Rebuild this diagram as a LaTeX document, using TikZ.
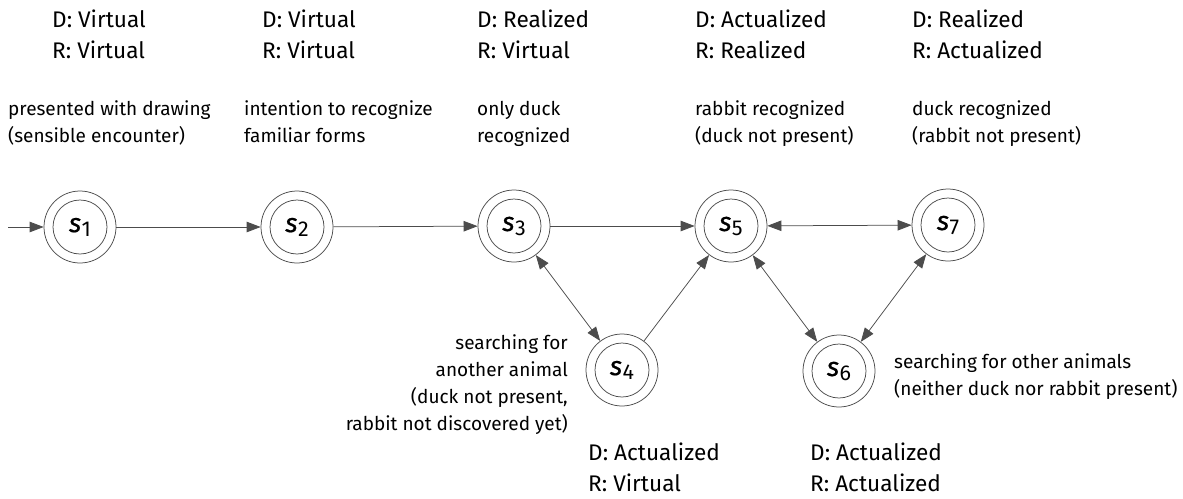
\documentclass[tikz,border=0pt]{standalone}
\usepackage{fontspec}
\setmainfont{Fira Sans}
\newfontfamily\stfont[FakeBold=0.6]{Fira Sans}
\usetikzlibrary{arrows.meta}
\definecolor{edgec}{gray}{0.3}
\newcommand{\st}[1]{{\stfont\fontsize{26.5}{26.5}\selectfont\itshape s}\kern0.5pt\raisebox{-4pt}{\fontsize{21.5}{21.5}\selectfont #1}}

\begin{document}
\begin{tikzpicture}[x=1pt,y=-1pt,
  state/.style={circle,draw=edgec,line width=0.75pt,minimum size=72pt,inner sep=0pt},
  inner/.style={draw=edgec,line width=0.75pt},
  edge/.style={draw=edgec,line width=0.75pt,-{Triangle[length=14pt,width=10.5pt]}},
  biedge/.style={draw=edgec,line width=0.75pt,{Triangle[length=14pt,width=10.5pt]}-{Triangle[length=14pt,width=10.5pt]}},
  dr/.style={anchor=base west,inner sep=0pt,font=\fontsize{22.6}{22.6}\selectfont},
  txt/.style={anchor=base west,inner sep=0pt,font=\fontsize{19}{19}\selectfont},
  txtr/.style={anchor=base east,inner sep=0pt,font=\fontsize{19}{19}\selectfont}
]
\useasboundingbox (0,0) rectangle (1183,498);

% states
\node[state] (s1) at (80,227) {\st{1}};
\node[state] (s2) at (297,227) {\st{2}};
\node[state] (s3) at (514,226) {\st{3}};
\node[state] (s4) at (622,370) {\st{4}};
\node[state] (s5) at (731,226) {\st{5}};
\node[state] (s6) at (839,371) {\st{6}};
\node[state] (s7) at (948,225) {\st{7}};
\foreach \n in {s1,s2,s3,s4,s5,s6,s7}
  \draw[inner] (\n.center) circle[radius=27pt];

% transitions
\coordinate (start) at (8,227);
\draw[edge] (start) -- (s1);
\draw[edge] (s1) -- (s2);
\draw[edge] (s2) -- (s3);
\draw[edge] (s3) -- (s5);
\draw[biedge] (s5) -- (s7);
\draw[biedge] (s3) -- (s4);
\draw[edge] (s4) -- (s5);
\draw[biedge] (s5) -- (s6);
\draw[biedge] (s6) -- (s7);

% D / R status above the states
\node[dr] (d1) at (52,27) {D: Virtual};
\node[dr] (r1) at (52,58) {R: Virtual};
\node[dr] (d2) at (262,27) {D: Virtual};
\node[dr] (r2) at (262,58) {R: Virtual};
\node[dr] (d3) at (477,27) {D: Realized};
\node[dr] (r3) at (477,58) {R: Virtual};
\node[dr] (d5) at (695,27) {D: Actualized};
\node[dr] (r5) at (695,58) {R: Realized};
\node[dr] (d7) at (912,27) {D: Realized};
\node[dr] (r7) at (912,58) {R: Actualized};

% D / R status below the states
\node[dr] (d4) at (588,460) {D: Actualized};
\node[dr] (r4) at (588,491) {R: Virtual};
\node[dr] (d6) at (810,460) {D: Actualized};
\node[dr] (r6) at (810,491) {R: Actualized};

% descriptions
\node[txt] (t1a) at (8,115) {presented with drawing};
\node[txt] (t1b) at (8,142) {(sensible encounter)};
\node[txt] (t2a) at (244,115) {intention to recognize};
\node[txt] (t2b) at (244,142) {familiar forms};
\node[txt] (t3a) at (477,115) {only duck};
\node[txt] (t3b) at (477,142) {recognized};
\node[txt] (t5a) at (695,115) {rabbit recognized};
\node[txt] (t5b) at (695,142) {(duck not present)};
\node[txt] (t7a) at (912,115) {duck recognized};
\node[txt] (t7b) at (912,142) {(rabbit not present)};

\node[txtr] (t4a) at (568,349) {searching for};
\node[txtr] (t4b) at (568,376) {another animal};
\node[txtr] (t4c) at (568,403) {(duck not present,};
\node[txtr] (t4d) at (568,430) {rabbit not discovered yet)};

\node[txt] (t6a) at (894,368) {searching for other animals};
\node[txt] (t6b) at (894,395) {(neither duck nor rabbit present)};
\end{tikzpicture}
\end{document}
